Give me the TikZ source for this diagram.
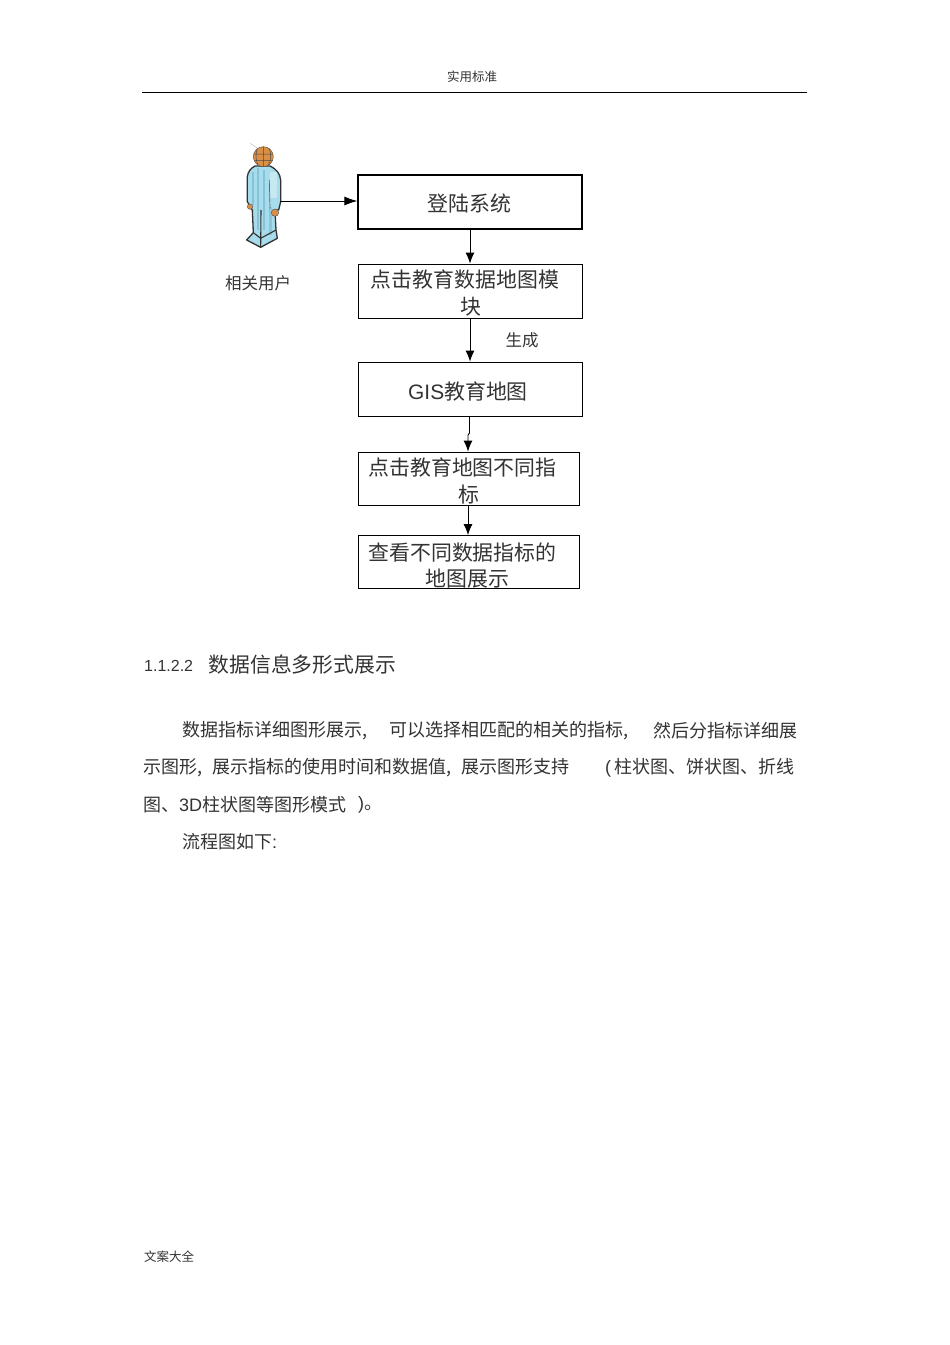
\documentclass[tikz,border=0pt]{standalone}
\usepackage{fontspec}
\setmainfont{Liberation Sans}
\newfontfamily\cjk{Noto Sans CJK SC}
\usetikzlibrary{arrows.meta}
\definecolor{inkgray}{HTML}{333333}
\definecolor{suitblue}{HTML}{A6DCEB}
\definecolor{suitdark}{HTML}{6FB4CC}
\definecolor{skinbrown}{HTML}{D98F45}
\tikzset{
  flowbox/.style={draw=black, line width=0.9pt, minimum width=224pt, minimum height=54pt, inner sep=0pt},
  shortbox/.style={flowbox, minimum width=221pt, minimum height=53pt},
  boxtext/.style={text=inkgray, font=\fontsize{20.9}{22}\selectfont\cjk, inner sep=0pt},
  bodytext/.style={text=inkgray, font=\fontsize{18}{20}\selectfont\cjk, anchor=west, inner sep=0pt},
  smalltext/.style={text=inkgray, font=\fontsize{16.5}{18}\selectfont\cjk, inner sep=0pt},
  tinytext/.style={text=inkgray, font=\fontsize{12.5}{14}\selectfont\cjk, inner sep=0pt},
  flow/.style={draw=black, line width=0.9pt, -{Latex[length=11pt,width=9pt]}}
}
\begin{document}
\begin{tikzpicture}[x=1pt, y=-1pt]
    \useasboundingbox[fill=white] (0,0) rectangle (950,1345);

    % header and footer
    \node[tinytext] (header) at (472,76.5) {实用标准};
    \coordinate (ruleL) at (142,92); \coordinate (ruleR) at (807,92);
    \draw[line width=0.7pt] (ruleL) -- (ruleR);
    \node[tinytext, anchor=west] (footer) at (144,1257) {文案大全};

    % the user figure
    \begin{scope}[shift={(220,130)}, x=0.3333pt, y=-0.3333pt, line join=round]
        \draw[black!80, line width=1.3pt, fill=suitblue]
            (105,108) -- (150,108) .. controls (170,118) and (180,130) .. (182,150)
            -- (182,215) -- (176,240) -- (165,240) -- (168,300) -- (172,325) -- (122,352)
            -- (80,330) -- (100,308) -- (97,240) -- (82,215) -- (82,140)
            .. controls (84,125) and (92,115) .. (105,108) -- cycle;
        \fill[suitdark, opacity=0.6] (95,125) rectangle (103,225);
        \fill[suitdark, opacity=0.6] (112,115) rectangle (118,300);
        \fill[suitdark, opacity=0.6] (130,120) rectangle (136,300);
        \fill[suitdark, opacity=0.5] (148,230) rectangle (156,315);
        \fill[white, opacity=0.35] (150,125) rectangle (172,205);
        \draw[black!80, line width=1.1pt] (123,240) -- (122,352) (100,308) -- (122,325) -- (168,300);
        \draw[black!60, line width=0.7pt] (148,150) -- (150,235);
        \fill[skinbrown, draw=black!70] (165,248) circle (11);
        \fill[skinbrown, draw=black!70] (90,230) circle (8);
        \fill[skinbrown, draw=black!70] (130,80) circle (30);
        \draw[black!70, line width=0.5pt] (100,72) -- (160,72) (103,92) -- (157,92) (130,50) -- (130,110)
            (112,55) .. controls (105,75) and (108,95) .. (115,106) (148,55) .. controls (155,75) and (152,95) .. (145,106);
        \draw[black!30, line width=0.4pt] (90,40) -- (112,54);
    \end{scope}
    \coordinate (user) at (280,201);
    \node[smalltext] (userlabel) at (258,283) {相关用户};

    % the boxes
    \node[flowbox, line width=1.2pt] (login) at (470,202) {};
    \node[flowbox] (click) at (470,291) {};
    \node[flowbox] (gis) at (470,389) {};
    \node[shortbox] (pick) at (468.5,478.5) {};
    \node[shortbox] (view) at (468.5,562) {};

    \node[boxtext] (logintext) at (469.5,203) {登陆系统};
    \node[boxtext] (clicktexta) at (465,280) {点击教育数据地图模};
    \node[boxtext] (clicktextb) at (470.5,307) {块};
    \node[boxtext, font=\fontsize{20.9}{22}\selectfont] (gistext) at (468,392) {GIS{\cjk 教育地图}};
    \node[boxtext] (picktexta) at (462.5,468) {点击教育地图不同指};
    \node[boxtext] (picktextb) at (468.5,495) {标};
    \node[boxtext] (viewtexta) at (462.5,553) {查看不同数据指标的};
    \node[boxtext] (viewtextb) at (467.5,579) {地图展示};
    \node[smalltext] (made) at (522,340) {生成};

    % the arrows
    \draw[flow, -{Latex[length=13pt,width=9pt]}] (user) -- (login.west |- user);
    \draw[flow] (login.south -| 470,0) -- (click.north -| 470,0);
    \draw[flow] (click.south -| 470,0) -- (gis.north -| 470,0);
    \draw[flow] (gis.south -| 469.5,0) -- (469.5,433) -- (468,435) -- (pick.north -| 468,0);
    \draw[flow] (pick.south -| 468,0) -- (view.north -| 468,0);

    % the text below
    \node[bodytext, font=\fontsize{16}{18}\selectfont] (secnum) at (144,666) {1.1.2.2};
    \node[bodytext, font=\fontsize{20.8}{22}\selectfont\cjk] (sectitle) at (208.5,665) {数据信息多形式展示};

    \node[bodytext] (lineaa) at (182,731) {数据指标详细图形展示,};
    \node[bodytext] (lineab) at (389,731) {可以选择相匹配的相关的指标,};
    \node[bodytext] (lineac) at (653,731) {然后分指标详细展};
    \node[bodytext] (lineba) at (143,768) {示图形,\hspace{10pt}展示指标的使用时间和数据值,\hspace{10pt}展示图形支持};
    \node[bodytext] (linebb) at (605,768) {\fontspec{Liberation Sans}(\hspace{3pt}{\cjk 柱状图、饼状图、折线}};
    \node[bodytext] (lineca) at (143,805) {图、{\fontspec{Liberation Sans}3D}柱状图等图形模式};
    \node[bodytext] (linecb) at (358,805) {\fontspec{Liberation Sans}){\cjk 。}};
    \node[bodytext] (lineda) at (182,842) {流程图如下{\fontspec{Liberation Sans}:}};
\end{tikzpicture}
\end{document}
